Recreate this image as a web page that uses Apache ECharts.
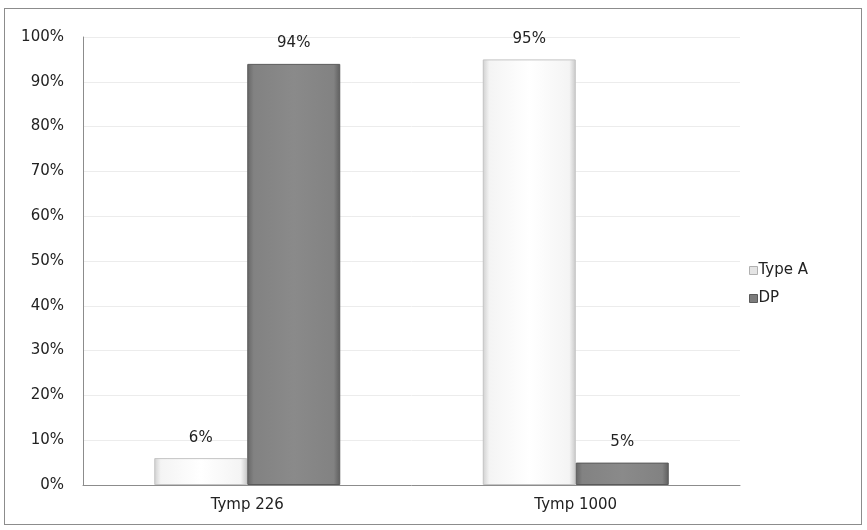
<!DOCTYPE html>
<html><head><meta charset="utf-8">
<script src="https://cdn.jsdelivr.net/npm/echarts@6/dist/echarts.min.js"></script>
<style>html,body{margin:0;padding:0;background:#fff}#c{width:867px;height:530px;position:relative}
#frame{position:absolute;left:4px;top:8px;width:858px;height:517px;border:1px solid #8c8c8c;box-sizing:border-box;pointer-events:none}</style>
</head><body><div id="c"></div><div id="frame"></div>
<script>
const categories = ['Tymp 226', 'Tymp 1000'];
const typeA = [6, 95];
const dp = [94, 5];
const yTicks = [0,10,20,30,40,50,60,70,80,90,100];

const chart = echarts.init(document.getElementById('c'));
const font = 'DejaVu Sans, sans-serif';
const gradWhite = {type:'linear',x:0,y:0,x2:1,y2:0,colorStops:[
  {offset:0,color:'#d0d0d0'},{offset:0.07,color:'#f4f4f4'},{offset:0.5,color:'#ffffff'},{offset:0.93,color:'#f4f4f4'},{offset:1,color:'#c8c8c8'}]};
const gradGray = {type:'linear',x:0,y:0,x2:1,y2:0,colorStops:[
  {offset:0,color:'#666666'},{offset:0.07,color:'#828282'},{offset:0.5,color:'#8a8a8a'},{offset:0.93,color:'#828282'},{offset:1,color:'#5e5e5e'}]};
chart.setOption({
  animation:false,
  grid:{left:83,right:127,top:37,bottom:45,containLabel:false},
  legend:{orient:'vertical',left:744,top:258,itemWidth:8,itemHeight:8,itemGap:13,
    textStyle:{fontFamily:font,fontSize:15,color:'#222',padding:[0,0,0,-4]},
    data:[{name:'Type A',icon:'rect',itemStyle:{color:'#e4e4e4',borderColor:'#b0b0b0',borderWidth:1}},
          {name:'DP',icon:'rect',itemStyle:{color:'#7c7c7c',borderColor:'#5a5a5a',borderWidth:1}}]},
  xAxis:{type:'category',data:categories,
    axisLine:{lineStyle:{color:'#8c8c8c'}},axisTick:{show:false},
    axisLabel:{fontFamily:font,fontSize:15,color:'#222',margin:13}},
  yAxis:{type:'value',min:0,max:100,interval:10,
    axisLine:{show:true,lineStyle:{color:'#8c8c8c'}},axisTick:{show:false},
    splitLine:{lineStyle:{color:'#ececec'}},
    axisLabel:{fontFamily:font,fontSize:15,color:'#222',margin:19,formatter:v=>v+'%'}},
  series:[
    {name:'Type A',type:'bar',data:typeA,barWidth:93,barGap:'0%',
     itemStyle:{color:gradWhite,borderColor:'#c4c4c4',borderWidth:1},
     label:{show:true,position:'top',distance:13,fontFamily:font,fontSize:15,color:'#222',formatter:p=>p.value+'%'}},
    {name:'DP',type:'bar',data:dp,barWidth:93,
     itemStyle:{color:gradGray,borderColor:'#5a5a5a',borderWidth:1},
     label:{show:true,position:'top',distance:13,fontFamily:font,fontSize:15,color:'#222',formatter:p=>p.value+'%'}}
  ]
});
</script></body></html>
